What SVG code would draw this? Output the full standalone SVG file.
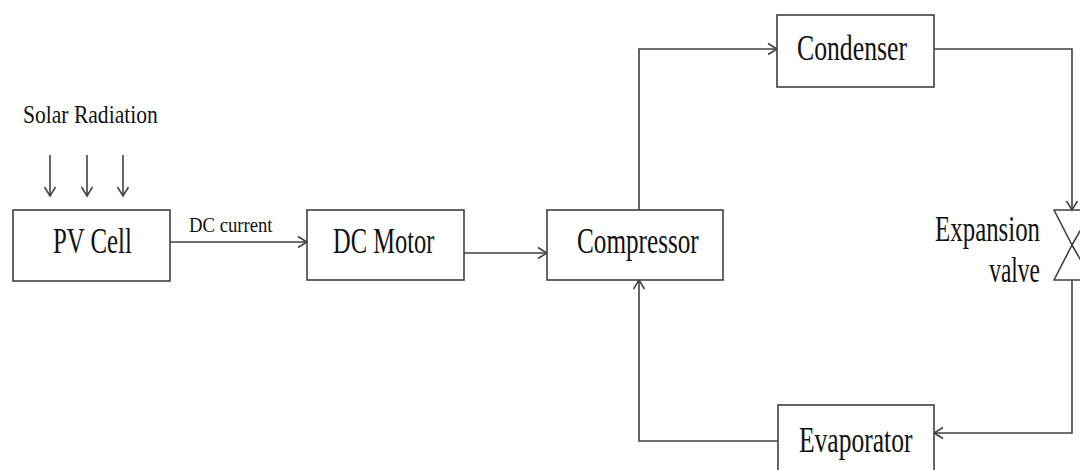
<svg xmlns="http://www.w3.org/2000/svg" width="1080" height="470" viewBox="0 0 1080 470">
<defs>
<marker id="arr" markerUnits="userSpaceOnUse" markerWidth="14" markerHeight="14" refX="10" refY="7" orient="auto">
<path d="M1,1.5 L10,7 L1,12.5" fill="none" stroke="#404040" stroke-width="1.5"/>
</marker>
</defs>
<style>
.box{fill:#fff;stroke:#404040;stroke-width:1.6}
.ln{fill:none;stroke:#404040;stroke-width:1.6}
.t{font-family:"Liberation Serif","Times New Roman",serif;fill:#111}
.big{font-size:35px}
</style>
<rect width="1080" height="470" fill="#fff"/>
<text class="t" font-size="26" transform="translate(23,123) scale(0.83,1)">Solar Radiation</text>
<g id="connectors">
<line class="ln" x1="50" y1="155" x2="50" y2="196" marker-end="url(#arr)"/>
<line class="ln" x1="87" y1="155" x2="87" y2="196" marker-end="url(#arr)"/>
<line class="ln" x1="123" y1="155" x2="123" y2="196" marker-end="url(#arr)"/>
<line class="ln" x1="170" y1="242" x2="307" y2="242" marker-end="url(#arr)"/>
<line class="ln" x1="464" y1="253" x2="547" y2="253" marker-end="url(#arr)"/>
<polyline class="ln" points="639,210 639,49 777,49" marker-end="url(#arr)"/>
<polyline class="ln" points="934,49 1072,49 1072,210" marker-end="url(#arr)"/>
<polyline class="ln" points="1072,280 1072,433 934,433" marker-end="url(#arr)"/>
<polyline class="ln" points="778,441 639,441 639,280" marker-end="url(#arr)"/>
<text class="t" font-size="22" transform="translate(189,232) scale(0.85,1)">DC current</text>
</g>
<g id="pv-cell">
<rect class="box" x="13" y="210" width="157" height="71"/>
<text class="t big" transform="translate(53,253) scale(0.71,1)">PV Cell</text>
</g>
<g id="dc-motor">
<rect class="box" x="307" y="210" width="157" height="70"/>
<text class="t big" transform="translate(333,253) scale(0.70,1)">DC Motor</text>
</g>
<g id="compressor">
<rect class="box" x="547" y="210" width="176" height="70"/>
<text class="t big" transform="translate(577,253) scale(0.72,1)">Compressor</text>
</g>
<g id="condenser">
<rect class="box" x="777" y="15" width="157" height="72"/>
<text class="t big" transform="translate(797,60) scale(0.735,1)">Condenser</text>
</g>
<g id="expansion-valve">
<path class="ln" d="M1054,210 L1092,210 L1072,245 Z M1054,280 L1092,280 L1072,245 Z" stroke-linejoin="round"/>
<text class="t big" text-anchor="end" transform="translate(1040,241) scale(0.71,1)">Expansion</text>
<text class="t big" text-anchor="end" transform="translate(1040,282) scale(0.67,1)">valve</text>
</g>
<g id="evaporator">
<rect class="box" x="778" y="405" width="156" height="80"/>
<text class="t big" transform="translate(799,452) scale(0.73,1)">Evaporator</text>
</g>
</svg>
